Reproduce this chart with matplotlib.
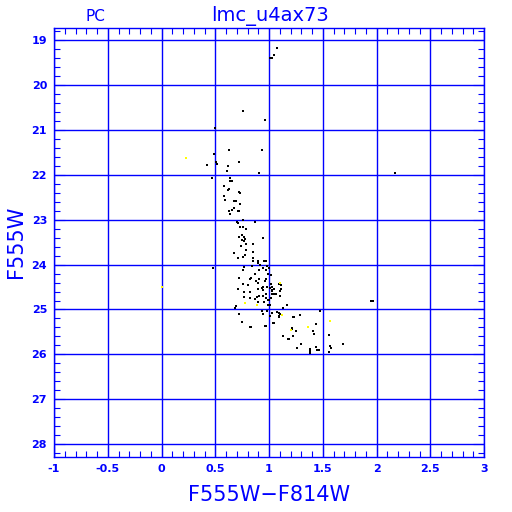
import numpy as np
import matplotlib
matplotlib.use("Agg")
import matplotlib.pyplot as plt
from matplotlib.ticker import MultipleLocator, FormatStrFormatter

plt.rcParams['axes.unicode_minus'] = False

# colour (F555W-F814W) and magnitude (F555W) of the stars
color_black = [1.07, 1.05, 1.01, 1.03, 0.76, 0.96, 0.50, 0.63, 0.93, 0.49,
               0.42, 0.51, 0.52, 0.62, 0.72, 0.61, 0.91, 0.47, 0.64, 0.64,
               0.66, 0.58, 0.63, 0.62, 0.72, 0.73, 0.58, 0.59, 0.67, 0.69,
               0.73, 0.67, 0.66, 0.71, 0.72, 0.63, 0.64, 0.76, 0.87, 0.70,
               0.71, 0.73, 0.76, 0.79, 0.75, 0.72, 0.77, 0.78, 0.94, 0.75,
               0.77, 0.79, 0.74, 0.85, 0.79, 0.67, 0.85, 0.78,
               0.48, 0.71, 0.76, 0.85, 0.85, 0.90, 0.90, 0.95, 0.97, 0.84,
               0.77, 0.76, 0.92, 0.94, 0.98, 1.00, 0.91, 0.97, 0.99, 0.72,
               0.82, 0.83, 0.87, 0.91, 0.97, 0.96, 1.02, 0.76, 0.80, 0.71,
               0.90, 0.88, 0.94, 0.93, 0.98, 1.02, 1.03, 1.09, 1.03, 1.03,
               0.90, 1.01, 0.94, 1.05, 1.10, 0.77, 0.82, 1.03, 0.94, 0.97,
               0.91, 0.89, 0.77, 0.82, 0.87, 0.99, 1.00, 0.97, 1.02, 0.90,
               0.95, 0.99, 1.01, 0.69, 0.68, 0.93, 0.98, 0.72,
               1.01, 1.09, 0.75, 1.04, 0.96, 0.97, 0.82, 0.83, 0.94, 1.03,
               1.07, 1.09,
               1.11, 1.05, 1.06, 1.10, 1.11, 1.17, 1.13, 1.47, 1.10, 1.09,
               1.22, 1.23, 1.29, 1.05, 1.44, 1.21, 1.21, 1.25, 1.41, 1.42,
               1.56, 1.13, 1.22, 1.18, 1.19, 1.30, 1.69, 1.57, 1.58, 1.44,
               1.26, 1.38, 1.38, 1.38, 1.45, 1.46, 1.56,
               2.17, 1.95, 1.97]
mag_black = [19.17, 19.33, 19.39, 19.39, 20.57, 20.78, 20.95, 21.44, 21.44, 21.53,
             21.78, 21.72, 21.76, 21.80, 21.72, 21.92, 21.96, 22.07, 22.06, 22.14,
             22.14, 22.25, 22.31, 22.34, 22.39, 22.41, 22.47, 22.55, 22.58, 22.58,
             22.65, 22.73, 22.78, 22.80, 22.80, 22.80, 22.87, 23.00, 23.05, 23.05,
             23.08, 23.16, 23.17, 23.20, 23.34, 23.39, 23.39, 23.42, 23.40, 23.45,
             23.48, 23.54, 23.58, 23.54, 23.67, 23.74, 23.71, 23.79,
             24.08, 23.86, 23.84, 23.86, 23.92, 23.92, 23.97, 23.91, 23.91, 24.03,
             24.05, 24.12, 24.00, 24.07, 24.03, 24.07, 24.13, 24.12, 24.21, 24.29,
             24.32, 24.29, 24.21, 24.31, 24.33, 24.37, 24.24, 24.44, 24.45, 24.55,
             24.41, 24.37, 24.49, 24.53, 24.49, 24.44, 24.49, 24.44, 24.56, 24.59,
             24.55, 24.53, 24.56, 24.55, 24.58, 24.61, 24.62, 24.65, 24.69, 24.66,
             24.70, 24.73, 24.72, 24.75, 24.76, 24.79, 24.78, 24.75, 24.74, 24.83,
             24.83, 24.91, 24.89, 24.92, 24.96, 25.03, 25.04, 25.10,
             25.14, 25.14, 25.28, 25.30, 25.36, 25.36, 25.39, 25.39, 25.10, 25.07,
             25.06, 25.07,
             24.54, 24.66, 24.66, 24.69, 24.45, 24.90, 24.96, 25.04, 25.10, 25.16,
             25.16, 25.16, 25.12, 25.30, 25.33, 25.41, 25.44, 25.47, 25.47, 25.54,
             25.56, 25.59, 25.59, 25.65, 25.65, 25.76, 25.76, 25.82, 25.85, 25.84,
             25.85, 25.88, 25.92, 25.96, 25.90, 25.90, 25.94,
             21.96, 24.80, 24.80]

color_yellow = [0.23, 0.00, 1.10, 0.78, 0.89, 1.12, 1.57, 1.36, 1.20]
mag_yellow = [21.62, 24.50, 24.41, 24.85, 24.90, 25.12, 25.25, 25.39, 25.46]

xticks = [-1, -0.5, 0, 0.5, 1, 1.5, 2, 2.5, 3]
yticks = [19, 20, 21, 22, 23, 24, 25, 26, 27, 28]

blue = '#0000ff'

fig = plt.figure(figsize=(5.12, 5.12), dpi=100)
ax = fig.add_axes([0.1055, 0.108, 0.84, 0.838])

ax.scatter(color_black, mag_black, marker='s', s=4, c='black', linewidths=0, zorder=3)
ax.scatter(color_yellow, mag_yellow, marker='s', s=4, c='#ffff00', linewidths=0, zorder=3)

ax.set_xlim(-1, 3)
ax.set_ylim(28.28, 18.72)
ax.set_xticks(xticks)
ax.set_yticks(yticks)
ax.xaxis.set_minor_locator(MultipleLocator(0.1))
ax.yaxis.set_minor_locator(MultipleLocator(0.2))
ax.xaxis.set_major_formatter(FormatStrFormatter('%g'))
ax.yaxis.set_major_formatter(FormatStrFormatter('%g'))

ax.grid(True, which='major', color=blue, linewidth=1.0)
ax.set_axisbelow(True)
for sp in ax.spines.values():
    sp.set_color(blue)
    sp.set_linewidth(1.0)

ax.tick_params(which='both', direction='in', colors=blue, top=True, right=True,
               labelsize=8, width=0.8)
ax.tick_params(which='major', length=8, pad=5)
ax.tick_params(which='minor', length=4)
for lab in ax.get_xticklabels() + ax.get_yticklabels():
    lab.set_fontweight('bold')

ax.set_xlabel('F555W\u2212F814W', color=blue, fontsize=15, labelpad=8)
ax.set_ylabel('F555W', color=blue, fontsize=15, labelpad=4)
fig.text(0.527, 0.968, 'lmc_u4ax73', color=blue, fontsize=14, ha='center', va='center')
fig.text(0.186, 0.968, 'PC', color=blue, fontsize=11, ha='center', va='center')

fig.savefig('out.png', dpi=100)
